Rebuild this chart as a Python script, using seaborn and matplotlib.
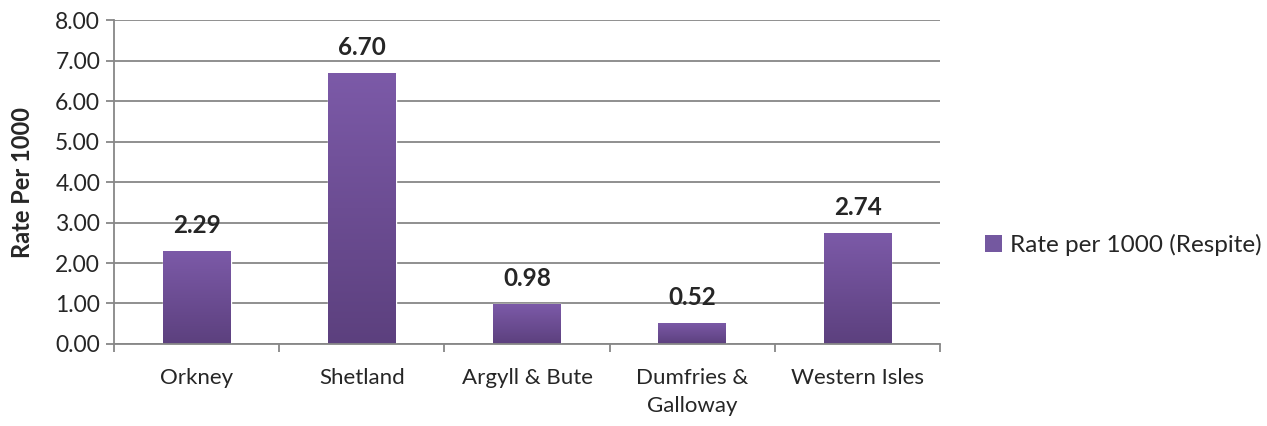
import numpy as np
import pandas as pd
import matplotlib
matplotlib.use('Agg')
import matplotlib.pyplot as plt
import seaborn as sns
from matplotlib.colors import LinearSegmentedColormap
from matplotlib.patches import Patch

# chart data
areas = ['Orkney', 'Shetland', 'Argyll & Bute', 'Dumfries &\nGalloway', 'Western Isles']
rates = [2.29, 6.70, 0.98, 0.52, 2.74]
series_name = 'Rate per 1000 (Respite)'
y_ticks = [0, 1, 2, 3, 4, 5, 6, 7, 8]


def add_gradient(ax, top='#7c5aa8', bottom='#5c407e'):
    """Paint each bar with a vertical purple gradient"""
    cmap = LinearSegmentedColormap.from_list('bar', [bottom, top])
    grad = np.linspace(0, 1, 256).reshape(-1, 1)
    for patch in ax.patches:
        x0, y0 = patch.get_x(), patch.get_y()
        w, h = patch.get_width(), patch.get_height()
        im = ax.imshow(grad, cmap=cmap, aspect='auto', origin='lower',
                       extent=[x0, x0 + w, y0, y0 + h], zorder=patch.get_zorder() + 0.1)
        im.set_clip_path(patch)


def main():
    sns.set_style('white')
    plt.rcParams['font.family'] = ['Lato', 'DejaVu Sans']

    df = pd.DataFrame({'Area': areas, 'Rate': rates})

    fig = plt.figure(figsize=(12.67, 4.26), dpi=100)
    ax = fig.add_axes([0.09, 0.1925, 0.652, 0.7605])

    sns.barplot(data=df, x='Area', y='Rate', color='#6d4e96', width=0.41,
                saturation=1, ax=ax, zorder=2)
    add_gradient(ax)
    ax.set_xlim(-0.5, len(areas) - 0.5)
    ax.set_ylim(0, 8)

    # value labels
    for i, v in enumerate(rates):
        ax.annotate(f'{v:.2f}', (i, v), xytext=(0, 13), textcoords='offset points',
                    ha='center', va='baseline', fontsize=17.5, fontweight='bold')

    grid_col = '#878787'
    ax.set_yticks(y_ticks)
    ax.set_yticklabels([f'{t:.2f}' for t in y_ticks], fontsize=16.5)
    ax.yaxis.grid(True, color=grid_col, linewidth=1.3, zorder=0)
    ax.set_axisbelow(True)
    ax.tick_params(axis='y', length=6, width=1.3, color=grid_col, pad=4, left=True)

    ax.set_xticks(range(len(areas)))
    ax.set_xticklabels(areas, fontsize=16, linespacing=1.5)
    ax.set_xticks(np.arange(-0.5, len(areas)), minor=True)
    ax.tick_params(axis='x', which='major', length=0, pad=17)
    ax.tick_params(axis='x', which='minor', length=6, width=1.3, color=grid_col, bottom=True)

    ax.set_xlabel('')
    ax.set_ylabel('Rate Per 1000', fontsize=17, fontweight='bold', labelpad=15)

    for side in ['top', 'right']:
        ax.spines[side].set_visible(False)
    for side in ['left', 'bottom']:
        ax.spines[side].set_color(grid_col)
        ax.spines[side].set_linewidth(1.3)

    handle = Patch(facecolor='#7458a0', edgecolor='none', label=series_name)
    fig.legend(handles=[handle], loc='center left', bbox_to_anchor=(0.76, 0.425),
               frameon=False, fontsize=17.5, handlelength=0.7, handleheight=0.7,
               handletextpad=0.35)

    fig.savefig('out.png', dpi=100)
    plt.close(fig)


if __name__ == '__main__':
    main()
